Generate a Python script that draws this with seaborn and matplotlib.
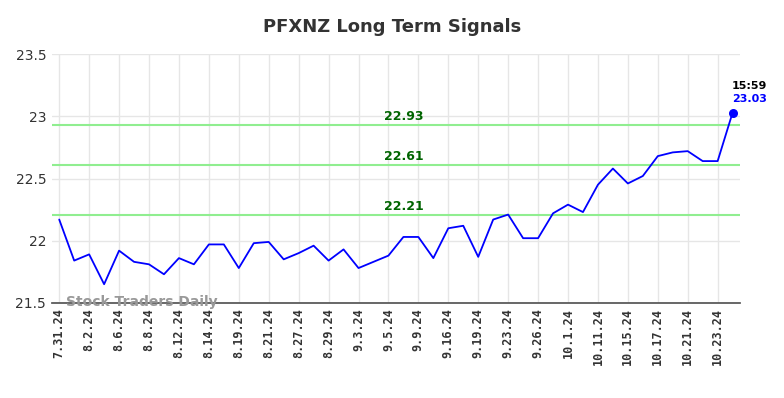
import matplotlib
matplotlib.use("Agg")
import matplotlib.pyplot as plt
import numpy as np
import pandas as pd
import seaborn as sns

sns.set_theme(style="whitegrid")

# closing prices, one per trading session
prices = [
    22.17, 21.84, 21.89, 21.65, 21.92, 21.83, 21.81, 21.73, 21.86, 21.81,
    21.97, 21.97, 21.78, 21.98, 21.99, 21.85, 21.90, 21.96, 21.84, 21.93,
    21.78, 21.83, 21.88, 22.03, 22.03, 21.86, 22.10, 22.12, 21.87, 22.17,
    22.21, 22.02, 22.02, 22.22, 22.29, 22.23, 22.45, 22.58, 22.46, 22.52,
    22.68, 22.71, 22.72, 22.64, 22.64, 23.03,
]
tick_labels = [
    "7.31.24", "8.2.24", "8.6.24", "8.8.24", "8.12.24", "8.14.24", "8.19.24",
    "8.21.24", "8.27.24", "8.29.24", "9.3.24", "9.5.24", "9.9.24", "9.16.24",
    "9.19.24", "9.23.24", "9.26.24", "10.1.24", "10.11.24", "10.15.24",
    "10.17.24", "10.21.24", "10.23.24",
]
signal_levels = [22.93, 22.61, 22.21]
last_time = "15:59"

df = pd.DataFrame({"idx": np.arange(len(prices)), "price": prices})

fig = plt.figure(figsize=(7.84, 3.98), dpi=100)
ax = fig.add_axes([0.066, 0.239, 0.878, 0.625])

for lvl in signal_levels:
    ax.axhline(lvl, color="#90ee90", linewidth=1.5, zorder=1)
    ax.text(23, lvl + 0.015, f"{lvl:.2f}", color="#006400", fontsize=9,
            fontweight="bold", ha="center", va="bottom")

sns.lineplot(data=df, x="idx", y="price", ax=ax, color="#0000ff", linewidth=1.3, zorder=3)
last = df.iloc[-1]
ax.scatter([last["idx"]], [last["price"]], color="#0000ff", s=30, zorder=4)
ax.text(last["idx"] - 0.05, last["price"] + 0.17, last_time, color="black", fontsize=8,
        fontweight="bold", ha="left", va="bottom")
ax.text(last["idx"] - 0.05, last["price"] + 0.065, f"{last['price']:.2f}", color="#0000ff",
        fontsize=8, fontweight="bold", ha="left", va="bottom")

ax.set_xlim(-0.5, 45.5)
ax.set_ylim(21.5, 23.5)
ax.set_yticks([21.5, 22, 22.5, 23, 23.5])
ax.set_yticklabels(["21.5", "22", "22.5", "23", "23.5"], fontsize=10, color="#333333")
ax.set_xticks(np.arange(0, len(prices), 2)[:len(tick_labels)])
ax.set_xticklabels(tick_labels, rotation=90, fontsize=8.5, fontweight="bold",
                   family="DejaVu Sans Mono", color="#333333")
ax.set_xlabel("")
ax.set_ylabel("")
ax.grid(color="#e6e6e6", linewidth=1)
for side in ["top", "right", "left"]:
    ax.spines[side].set_visible(False)
ax.spines["bottom"].set_color("#555555")
ax.tick_params(axis="both", length=0, pad=4)

ax.text(0.02, 0.005, "Stock Traders Daily", transform=ax.transAxes, color="#999999",
        fontsize=10, fontweight="bold", va="center", ha="left", zorder=5)

fig.suptitle("PFXNZ Long Term Signals", x=0.5, y=0.955, fontsize=13,
             fontweight="bold", color="#333333")

plt.savefig("out.png", dpi=100)
plt.close()
